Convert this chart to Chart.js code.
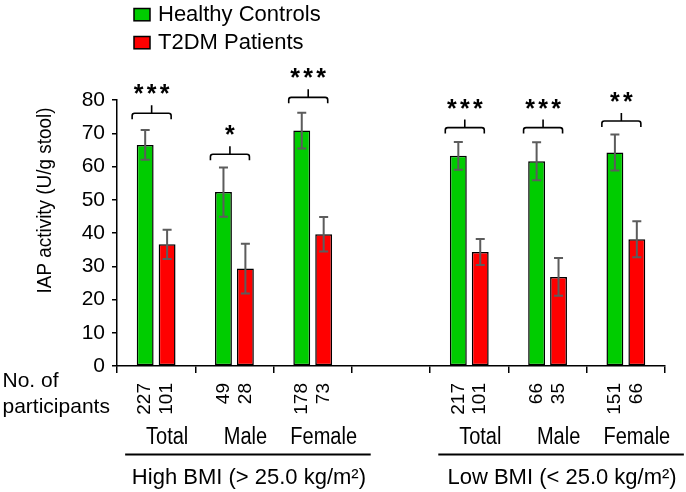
<!DOCTYPE html>
<html>
<head>
<meta charset="utf-8">
<script src="https://cdn.jsdelivr.net/npm/chart.js@4/dist/chart.umd.min.js"></script>
<style>
html,body{margin:0;padding:0;background:#fff;}
canvas{display:block;}
</style>
</head>
<body>
<canvas id="c" width="686" height="492"></canvas>
<script>
// ---- data ----
const categories = ['Total', 'Male', 'Female', '', 'Total', 'Male', 'Female'];
const seriesNames = ['Healthy Controls', 'T2DM Patients'];
const healthy    = [66.5, 52.3, 70.8, null, 63.2, 61.6, 64.2];
const healthyErr = [4.5, 7.4, 5.4, null, 4.2, 5.7, 5.4];
const t2dm       = [36.6, 29.3, 39.6, null, 34.3, 26.8, 38.1];
const t2dmErr    = [4.4, 7.5, 5.2, null, 3.9, 5.7, 5.4];
const nHealthy   = [227, 49, 178, null, 217, 66, 151];
const nT2dm      = [101, 28, 73, null, 101, 35, 66];
const significance = ['***', '*', '***', '', '***', '***', '**'];
const bracketLevel = [76.0, 63.7, 80.8, null, 71.7, 71.7, 73.7];
const groupNames = ['High BMI (> 25.0 kg/m²)', 'Low BMI (< 25.0 kg/m²)'];
const groupFirst = [0, 4];
const groupLast  = [2, 6];
const yTicks = [0, 10, 20, 30, 40, 50, 60, 70, 80];
const yTitle = 'IAP activity (U/g stool)';
const nLabelLines = ['No. of', 'participants'];

const FONT = '"Liberation Sans", Arial, Helvetica, sans-serif';
const GREEN = '#00cc00', RED = '#ff0000';

function drawText(ctx, s, x, y, o) {
  ctx.save();
  ctx.translate(x, y);
  if (o.rot) ctx.rotate(o.rot);
  ctx.scale(o.sx || 1, 1);
  ctx.font = (o.bold ? 'bold ' : '') + o.size + 'px ' + FONT;
  ctx.fillStyle = o.color || '#000';
  ctx.textAlign = o.align || 'center';
  ctx.textBaseline = o.baseline || 'alphabetic';
  ctx.fillText(s, 0, 0);
  ctx.restore();
}

const overlay = {
  id: 'overlay',
  afterDatasetsDraw(chart) {
    const ctx = chart.ctx, ys = chart.scales.y;
    const vals = [healthy, t2dm], errs = [healthyErr, t2dmErr];
    // error bars
    ctx.save();
    ctx.strokeStyle = '#5c5c5c';
    ctx.lineWidth = 2;
    for (let d = 0; d < 2; d++) {
      const meta = chart.getDatasetMeta(d);
      meta.data.forEach((bar, i) => {
        if (vals[d][i] == null) return;
        const cx = bar.x;
        const t = ys.getPixelForValue(vals[d][i] + errs[d][i]);
        const b = ys.getPixelForValue(vals[d][i] - errs[d][i]);
        ctx.beginPath();
        ctx.moveTo(cx, t); ctx.lineTo(cx, b);
        ctx.moveTo(cx - 4.5, t); ctx.lineTo(cx + 4.5, t);
        ctx.moveTo(cx - 4.5, b); ctx.lineTo(cx + 4.5, b);
        ctx.stroke();
      });
    }
    ctx.restore();
  },
  afterDraw(chart) {
    const ctx = chart.ctx, ys = chart.scales.y, xs = chart.scales.x;
    const m0 = chart.getDatasetMeta(0), m1 = chart.getDatasetMeta(1);
    // brackets and stars
    ctx.save();
    ctx.strokeStyle = '#000';
    ctx.lineWidth = 1.6;
    categories.forEach((c, i) => {
      if (bracketLevel[i] == null) return;
      const cx = (m0.data[i].x + m1.data[i].x) / 2 - 4.5;
      const hw = 19.5;
      const by = ys.getPixelForValue(bracketLevel[i]);
      const L = cx - hw, R = cx + hw;
      ctx.beginPath();
      ctx.moveTo(L, by + 6); ctx.lineTo(L, by + 2.5);
      ctx.quadraticCurveTo(L, by, L + 2.5, by);
      ctx.lineTo(R - 2.5, by);
      ctx.quadraticCurveTo(R, by, R, by + 2.5);
      ctx.lineTo(R, by + 6);
      ctx.moveTo(cx, by); ctx.lineTo(cx, by - 8);
      ctx.stroke();
      const s = significance[i];
      const n = s.length;
      for (let k = 0; k < n; k++) {
        const sx = cx + (k - (n - 1) / 2) * 13;
        drawText(ctx, '*', sx, by - 25 + 14, {size: 25, bold: true});
      }
    });
    ctx.restore();

    // participant counts (rotated)
    for (let i = 0; i < categories.length; i++) {
      if (nHealthy[i] == null) continue;
      drawText(ctx, String(nHealthy[i]), m0.data[i].x, 383, {size: 19, rot: -Math.PI / 2, align: 'right', baseline: 'middle'});
      drawText(ctx, String(nT2dm[i]), m1.data[i].x, 383, {size: 19, rot: -Math.PI / 2, align: 'right', baseline: 'middle'});
    }
    drawText(ctx, nLabelLines[0], 2.5, 387, {size: 21, align: 'left'});
    drawText(ctx, nLabelLines[1], 2.5, 413, {size: 21, align: 'left'});

    // category labels
    categories.forEach((c, i) => {
      if (!c) return;
      drawText(ctx, c, xs.getPixelForValue(i) + 11, 443.5, {size: 23, sx: 0.87});
    });

    // group lines & labels
    ctx.save();
    ctx.strokeStyle = '#000';
    ctx.lineWidth = 2;
    groupNames.forEach((g, k) => {
      const L = xs.getPixelForValue(groupFirst[k]) - 31;
      const R = xs.getPixelForValue(groupLast[k]) + 58;
      ctx.beginPath(); ctx.moveTo(L, 454.5); ctx.lineTo(R, 454.5); ctx.stroke();
      drawText(ctx, g, (L + R) / 2 + 1, 483.5, {size: 22});
    });
    ctx.restore();

    // y axis title
    drawText(ctx, yTitle, 45, 200.5, {size: 21, sx: 0.9, rot: -Math.PI / 2, baseline: 'middle'});

    // legend
    ctx.save();
    const cols = [GREEN, RED];
    const rowsY = [8.5, 36.5];
    seriesNames.forEach((nm, k) => {
      ctx.fillStyle = cols[k];
      ctx.fillRect(134, rowsY[k], 16, 12.3);
      ctx.strokeStyle = '#000'; ctx.lineWidth = 1.5;
      ctx.strokeRect(134, rowsY[k], 16, 12.3);
      drawText(ctx, nm, 158, rowsY[k] + 12.5, {size: 22, align: 'left'});
    });
    ctx.restore();
  }
};

new Chart(document.getElementById('c'), {
  type: 'bar',
  data: {
    labels: categories,
    datasets: [
      {label: seriesNames[0], data: healthy, backgroundColor: GREEN, borderColor: '#000', borderWidth: 1.5, borderSkipped: false,
       barPercentage: 0.77, categoryPercentage: 0.56},
      {label: seriesNames[1], data: t2dm, backgroundColor: RED, borderColor: '#000', borderWidth: 1.5, borderSkipped: false,
       barPercentage: 0.77, categoryPercentage: 0.56}
    ]
  },
  options: {
    responsive: false,
    animation: false,
    devicePixelRatio: 1,
    layout: {padding: {top: 100, right: 21, left: 0, bottom: 0}},
    plugins: {legend: {display: false}, tooltip: {enabled: false}, title: {display: false}},
    scales: {
      x: {
        grid: {display: true, drawOnChartArea: false, drawTicks: true, tickLength: 7, color: '#000', lineWidth: 1.5, offset: true},
        border: {display: true, color: '#000', width: 1.5},
        ticks: {display: false},
        afterFit(s) { s.height = 126; }
      },
      y: {
        min: 0, max: 80,
        afterBuildTicks(s) { s.ticks = yTicks.map(v => ({value: v})); },
        ticks: {color: '#000', font: {size: 21, family: FONT}, padding: 7},
        grid: {drawOnChartArea: false, drawTicks: true, tickLength: 5, color: '#000', lineWidth: 1.5},
        border: {display: true, color: '#000', width: 1.5},
        afterFit(s) { s.width = 117; }
      }
    }
  },
  plugins: [overlay]
});
</script>
</body>
</html>
